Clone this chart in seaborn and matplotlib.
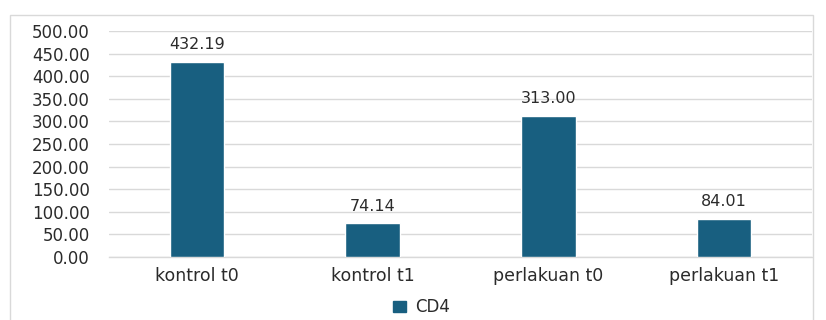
import matplotlib
matplotlib.use("Agg")
import matplotlib.pyplot as plt
import matplotlib.patches as mpatches
from matplotlib.ticker import FixedLocator, FormatStrFormatter
import seaborn as sns
import pandas as pd

# CD4 counts per group
categories = ["kontrol t0", "kontrol t1", "perlakuan t0", "perlakuan t1"]
cd4_values = [432.19, 74.14, 313.00, 84.01]
series_name = "CD4"

bar_color = "#185f80"
grid_color = "#d9d9d9"
text_color = "#2b2b2b"

sns.set_theme(style="white")
plt.rcParams["font.family"] = ["DejaVu Sans"]

df = pd.DataFrame({"group": categories, "value": cd4_values})

fig = plt.figure(figsize=(8.26, 3.2), dpi=100)
ax = fig.add_axes([0.132, 0.197, 0.851, 0.706])

sns.barplot(data=df, x="group", y="value", color=bar_color, width=0.31,
            saturation=1, ax=ax, zorder=3)

ax.set_ylim(0, 500)
ax.set_yticks(range(0, 501, 50))
ax.yaxis.set_major_formatter(FormatStrFormatter("%.2f"))
ax.grid(axis="y", color=grid_color, linewidth=1, zorder=0)
ax.set_axisbelow(True)
ax.set_xlim(-0.5, len(categories) - 0.5)
ax.set_xlabel("")
ax.set_ylabel("")

for side in ("top", "right", "left"):
    ax.spines[side].set_visible(False)
ax.spines["bottom"].set_color(grid_color)
ax.spines["bottom"].set_linewidth(1)

ax.tick_params(axis="y", length=0, pad=14, labelsize=12, labelcolor=text_color)
ax.tick_params(axis="x", which="major", length=0, pad=7, labelsize=12.5,
               labelcolor=text_color)
ax.xaxis.set_minor_locator(FixedLocator([i - 0.5 for i in range(len(categories) + 1)]))
ax.tick_params(axis="x", which="minor", length=4, color=grid_color, width=1)

for i, v in enumerate(cd4_values):
    ax.annotate(f"{v:.2f}", (i, v), xytext=(0, 7), textcoords="offset points",
                ha="center", va="bottom", fontsize=11.5, color=text_color)

handle = mpatches.Patch(color=bar_color, label=series_name)
fig.legend(handles=[handle], loc="center", bbox_to_anchor=(0.51, 0.04),
           frameon=False, fontsize=12, handlelength=0.8, handleheight=0.7,
           handletextpad=0.5, labelcolor=text_color)

# light frame around the chart area
frame = mpatches.Rectangle((10 / 826, -0.2), (813 - 10) / 826, 1.2 - 15 / 320,
                           transform=fig.transFigure, fill=False,
                           edgecolor=grid_color, linewidth=1, clip_on=False)
fig.patches.append(frame)

fig.savefig("out.png", dpi=100)
